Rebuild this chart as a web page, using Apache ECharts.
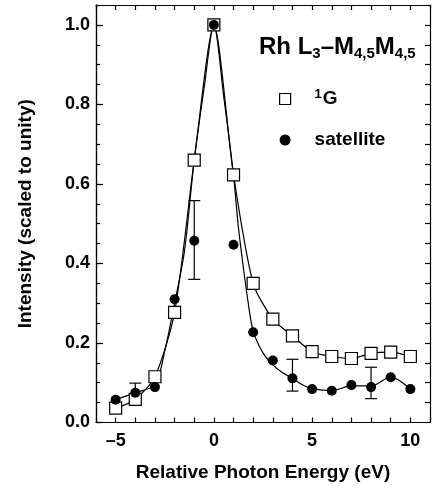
<!DOCTYPE html>
<html><head><meta charset="utf-8">
<script src="https://cdn.jsdelivr.net/npm/echarts@6/dist/echarts.min.js"></script>
<style>html,body{margin:0;padding:0;background:#fff}#c{width:433px;height:489px}</style>
</head><body><div id="c"></div>
<script>
// ---- data ----
const energy = [-5,-4,-3,-2,-1,0,1,2,3,4,5,6,7,8,9,10];
const g1Values = [0.036,0.058,0.115,0.277,0.66,1.0,0.623,0.35,0.26,0.218,0.178,0.166,0.161,0.174,0.177,0.166];
const satelliteValues = [0.057,0.075,0.089,0.31,0.457,1.0,0.447,0.227,0.156,0.111,0.084,0.080,0.094,0.089,0.114,0.084];
// satellite fit curve
const fitEnergy = [-5,-4,-3,-2.5,-2,-1.5,-1,-0.5,0,0.5,1,1.25,1.5,1.75,2,2.5,3,3.5,4,4.5,5,6,7,8,9,10];
const fitValues = [0.057,0.075,0.095,0.18,0.30,0.43,0.66,0.84,1.0,0.82,0.62,0.49,0.39,0.30,0.23,0.175,0.145,0.125,0.111,0.095,0.085,0.080,0.092,0.092,0.114,0.084];
// error bars
const errEnergy = [-4,-1,4,8];
const errLow = [0.05,0.36,0.079,0.060];
const errHigh = [0.099,0.558,0.159,0.139];
// tick labels
const xTickLabels = [-5,0,5,10];
const yTickLabels = [0.0,0.2,0.4,0.6,0.8,1.0];

const FONT = "'Liberation Sans', Arial, Helvetica, sans-serif";
const black = '#000';
const axisLine = {show:true, onZero:false, lineStyle:{color:black, width:1.2}};
const tickStyle = {color:black, width:1.2};

const chart = echarts.init(document.getElementById('c'), null, {renderer:'canvas'});
chart.setOption({
  animation:false,
  backgroundColor:'#fff',
  grid:{left:96, right:0, top:5, bottom:66.5, containLabel:false},
  title:{
    text:'{b|Rh L}{s|3}{b|–M}{s|4,5}{b|M}{s|4,5}',
    left:259, top:33, padding:0,
    textStyle:{rich:{
      b:{fontFamily:FONT, fontWeight:'bold', fontSize:24, color:black, lineHeight:28, verticalAlign:'middle'},
      s:{fontFamily:FONT, fontWeight:'bold', fontSize:15, color:black, lineHeight:16, verticalAlign:'bottom'}
    }}
  },
  legend:{
    orient:'vertical', left:279, top:88, padding:0, itemWidth:11, itemHeight:11, itemGap:22,
    selectedMode:false,
    data:[
      {name:'1G', icon:'rect', itemStyle:{color:'#fff', borderColor:black, borderWidth:1.2}},
      {name:'satellite', icon:'circle', itemStyle:{color:black, borderWidth:0, opacity:1}}
    ],
    formatter:n => n === '1G' ? '{sup|1}{b|G}' : '{b|satellite}',
    textStyle:{padding:[0,0,0,19], rich:{
      b:{fontFamily:FONT, fontWeight:'bold', fontSize:19, color:black, lineHeight:22},
      sup:{fontFamily:FONT, fontWeight:'bold', fontSize:13, color:black, verticalAlign:'top', lineHeight:12, padding:[0,1,0,0]}
    }}
  },
  xAxis:[
    {type:'value', min:-6, max:11, interval:1, position:'bottom',
     axisLine:axisLine, splitLine:{show:false},
     axisTick:{inside:true, length:5, lineStyle:tickStyle},
     axisLabel:{margin:10, fontFamily:FONT, fontWeight:'bold', fontSize:18, color:black,
       formatter:v => xTickLabels.indexOf(Math.round(v)) >= 0 && Math.abs(v-Math.round(v))<1e-9 ? String(Math.round(v)).replace('-','–') : ''},
     name:'Relative Photon Energy (eV)', nameLocation:'middle', nameGap:41,
     nameTextStyle:{fontFamily:FONT, fontWeight:'bold', fontSize:19, color:black}},
    {type:'value', min:-6, max:11, interval:1, position:'top',
     axisLine:axisLine, splitLine:{show:false},
     axisTick:{inside:true, length:5, lineStyle:tickStyle}, axisLabel:{show:false}}
  ],
  yAxis:[
    {type:'value', min:0, max:1.05, interval:0.2, position:'left',
     axisLine:axisLine, splitLine:{show:false},
     axisTick:{inside:true, length:7, lineStyle:tickStyle},
     axisLabel:{margin:6, showMaxLabel:false, fontFamily:FONT, fontWeight:'bold', fontSize:18, color:black,
       formatter:v => yTickLabels.some(t => Math.abs(t-v)<1e-6) ? v.toFixed(1) : ''},
     name:'Intensity (scaled to unity)', nameLocation:'middle', nameGap:61, nameRotate:90,
     nameTextStyle:{fontFamily:FONT, fontWeight:'bold', fontSize:19, color:black}},
    {type:'value', min:0, max:1.05, interval:0.05, position:'right',
     axisLine:axisLine, splitLine:{show:false},
     axisTick:{inside:true, length:5, lineStyle:tickStyle}, axisLabel:{show:false}},
    {type:'value', min:0, max:1.05, interval:0.05, position:'left',
     axisLine:axisLine, splitLine:{show:false},
     axisTick:{inside:true, length:4, lineStyle:tickStyle}, axisLabel:{show:false}}
  ],
  series:[
    {name:'satellite fit', type:'line', smooth:0.3, symbol:'none', z:2, silent:true,
     data:fitEnergy.map((x,i)=>[x, fitValues[i]]),
     lineStyle:{color:black, width:1.2}},
    {name:'error bars', type:'custom', z:2, silent:true,
     data:errEnergy.map((x,i)=>[x, errLow[i], errHigh[i]]),
     encode:{x:0, y:[1,2]},
     renderItem:(params, api) => {
       const x = api.value(0);
       const top = api.coord([x, api.value(2)]);
       const bot = api.coord([x, api.value(1)]);
       const w = 6;
       const st = {stroke:black, lineWidth:1.2};
       return {type:'group', children:[
         {type:'line', shape:{x1:top[0], y1:top[1], x2:bot[0], y2:bot[1]}, style:st},
         {type:'line', shape:{x1:top[0]-w, y1:top[1], x2:top[0]+w, y2:top[1]}, style:st},
         {type:'line', shape:{x1:bot[0]-w, y1:bot[1], x2:bot[0]+w, y2:bot[1]}, style:st}
       ]};
     }},
    {name:'1G', type:'line', smooth:0.25, symbol:'rect', symbolSize:12, z:3,
     data:energy.map((x,i)=>[x, g1Values[i]]),
     lineStyle:{color:black, width:1.2},
     itemStyle:{color:'#fff', borderColor:black, borderWidth:1.2}},
    {name:'satellite', type:'scatter', symbol:'circle', symbolSize:10, z:4,
     data:energy.map((x,i)=>[x, satelliteValues[i]]),
     itemStyle:{color:black, opacity:1}}
  ]
});
</script></body></html>
